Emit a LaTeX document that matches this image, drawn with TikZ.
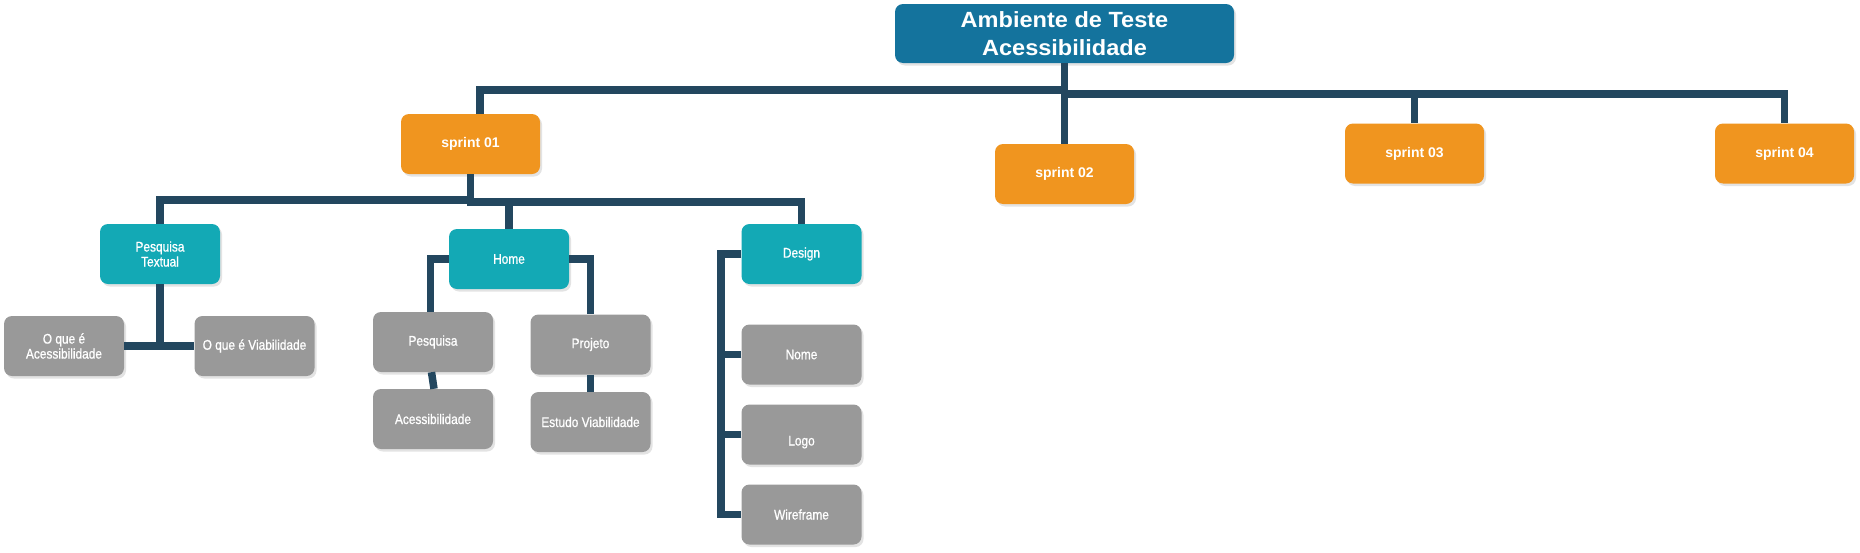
\documentclass[tikz,border=0pt]{standalone}
\usepackage{fontspec}
\setmainfont{Liberation Sans}
\newfontfamily\labelfont[FakeStretch=0.85,FakeBold=0.8]{Liberation Sans}
\newfontfamily\rootfont[FakeStretch=1.07]{Liberation Sans}
\usetikzlibrary{shadows}
\definecolor{rootc}{HTML}{14739D}
\definecolor{orangec}{HTML}{F0951F}
\definecolor{tealc}{HTML}{13A9B5}
\definecolor{grayc}{HTML}{999999}
\definecolor{linec}{HTML}{23475F}
\begin{document}
\begin{tikzpicture}[x=1pt,y=-1pt,
  box/.style={rounded corners=8pt, text=white, align=center, inner sep=0pt,
    drop shadow={shadow xshift=2pt,shadow yshift=-2.5pt,opacity=0.22}},
  rootbox/.style={box, fill=rootc, minimum width=339pt, minimum height=59pt,
    font=\rootfont\fontsize{22}{28}\selectfont\bfseries},
  sprintbox/.style={box, fill=orangec, minimum width=139pt, minimum height=60pt,
    font=\fontsize{14}{17}\selectfont\bfseries},
  topicbox/.style={box, fill=tealc, minimum width=120pt, minimum height=60pt,
    font=\labelfont\fontsize{14}{15}\selectfont},
  leafbox/.style={box, fill=grayc, minimum width=120pt, minimum height=60pt,
    font=\labelfont\fontsize{14}{15}\selectfont},
  link/.style={draw=linec, line width=7.5pt}
]
\path[fill=white] (0,0) rectangle (1860,552);
\useasboundingbox (0,0) rectangle (1860,552);

\node[rootbox] (root) at (1064.5,33.5) {Ambiente de Teste\\Acessibilidade};
\node[sprintbox] (s1) at (470.5,144) {sprint 01};
\node[sprintbox] (s2) at (1064.5,174) {sprint 02};
\node[sprintbox] (s3) at (1414.5,153.5) {sprint 03};
\node[sprintbox] (s4) at (1784.5,153.5) {sprint 04};

\node[topicbox] (pt) at (160,254) {Pesquisa\\Textual};
\node[topicbox] (home) at (509,259) {Home};
\node[topicbox] (design) at (801.5,254) {Design};

\node[leafbox] (oqa) at (64,346) {O que é\\Acessibilidade};
\node[leafbox] (oqv) at (254.5,346) {O que é Viabilidade};
\node[leafbox] (pesq) at (433,342) {Pesquisa};
\node[leafbox] (acess) at (433,419) {Acessibilidade};
\node[leafbox] (proj) at (590.5,344.5) {Projeto};
\node[leafbox] (est) at (590.5,422) {Estudo Viabilidade};
\node[leafbox] (nome) at (801.5,354.5) {Nome};
\node[leafbox] (logo) at (801.5,434.5) {\raisebox{-11pt}[0pt][0pt]{Logo}};
\node[leafbox] (wire) at (801.5,514.5) {Wireframe};

\draw[link] (root.south) -- ++(0,27) -| ([xshift=9.5pt]s1.north);
\draw[link] (root.south) -- (s2.north);
\draw[link] (root.south) -- ++(0,31) -| (s3.north);
\draw[link] (root.south) -- ++(0,31) -| (s4.north);

\draw[link] (s1.south) -- ++(0,26) -| (pt.north);
\draw[link] (s1.south) -- ++(0,28) -| (home.north);
\draw[link] (s1.south) -- ++(0,28) -| (design.north);

\draw[link] (pt.south) |- (oqa.east);
\draw[link] (pt.south) |- (oqv.west);

\draw[link] (home.west) -| ([xshift=-2.5pt]pesq.north);
\draw[link] (home.east) -| (proj.north);
\draw[link] ([xshift=-1.5pt]pesq.south) -- ([xshift=1pt]acess.north);
\draw[link] (proj.south) -- (est.north);

\draw[link] (design.west) -- ++(-20.5,0) |- (wire.west);
\draw[link] (nome.west) -- ++(-20.5,0);
\draw[link] (logo.west) -- ++(-20.5,0);
\end{tikzpicture}
\end{document}
